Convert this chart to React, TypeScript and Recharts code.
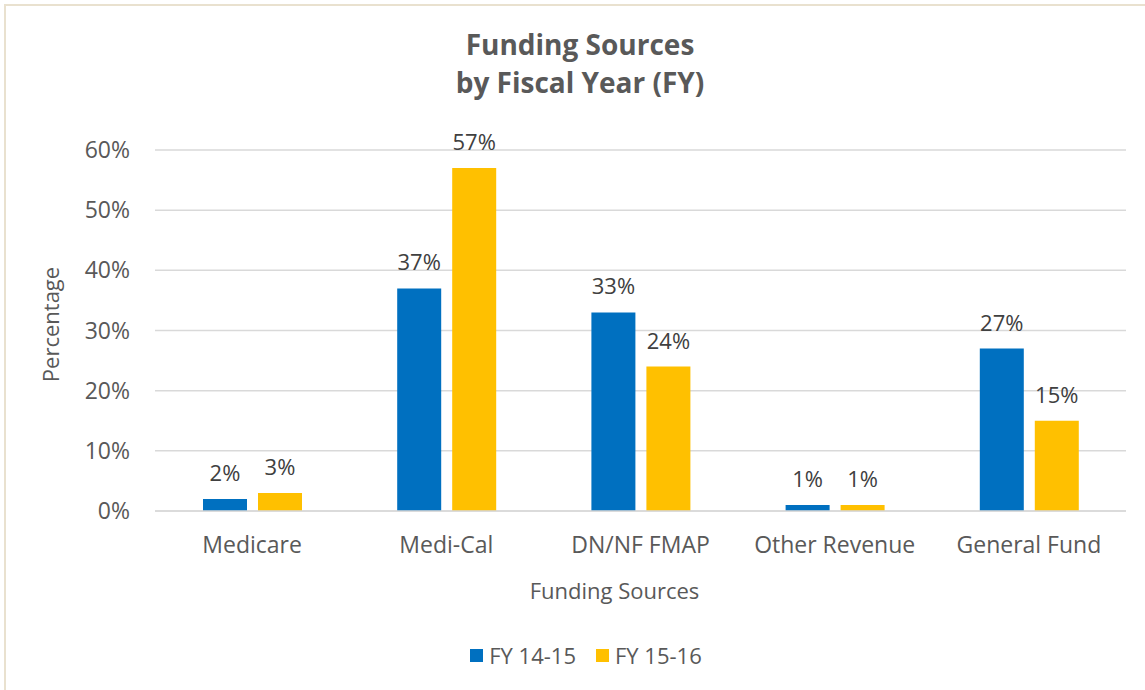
import React from "react";
import { BarChart, Bar, XAxis, YAxis, CartesianGrid, LabelList } from "recharts";

const categories = ["Medicare", "Medi-Cal", "DN/NF FMAP", "Other Revenue", "General Fund"];
const fy1415 = [2, 37, 33, 1, 27];
const fy1516 = [3, 57, 24, 1, 15];
const yTicks = [0, 10, 20, 30, 40, 50, 60];
const seriesNames = ["FY 14-15", "FY 15-16"];
const colors = ["#0070C0", "#FFC000"];

const data = categories.map((c, i) => ({ name: c, a: fy1415[i], b: fy1516[i] }));

const FONT = "'Open Sans', 'Noto Sans', sans-serif";

const YLabel = (props: any) => {
  const vb = props.viewBox || { x: 0, y: 0, width: 0, height: 0 };
  const x = vb.x + 50;
  const y = vb.y + vb.height / 2 - 6;
  return (
    <text
      x={x}
      y={y}
      transform={`rotate(-90 ${x} ${y})`}
      textAnchor="middle"
      dominantBaseline="central"
      fill="#595959"
      fontSize={22}
      fontFamily={FONT}
    >
      Percentage
    </text>
  );
};

export default function App() {
  return (
    <div style={{ position: "absolute", left: 0, top: 0, width: 1145, height: 690, background: "#fff", overflow: "hidden", fontFamily: FONT }}>
      <div style={{ position: "absolute", left: 4, top: 4, width: 1160, height: 700, borderLeft: "2px solid #E9E1CF", borderTop: "2px solid #E9E1CF", boxSizing: "border-box" }} />
      <div style={{ position: "absolute", left: 0, top: 25, width: 1160, textAlign: "center", color: "#595959", fontWeight: 700, fontSize: 28, lineHeight: "38px" }}>
        <div>Funding Sources</div>
        <div>by Fiscal Year (FY)</div>
      </div>
      <div style={{ position: "absolute", left: 0, top: 0 }}>
        <BarChart width={1145} height={690} data={data} margin={{ top: 150, right: 19, left: 0, bottom: 0 }} barSize={44} barGap={11}>
          <CartesianGrid vertical={false} stroke="#D9D9D9" strokeWidth={1.5} />
          <XAxis
            dataKey="name"
            height={179}
            tickLine={false}
            axisLine={{ stroke: "#D9D9D9", strokeWidth: 1.5 }}
            tickSize={0}
            tickMargin={26}
            tick={{ fill: "#595959", fontSize: 23, fontFamily: FONT }}
            interval={0}
            label={{ value: "Funding  Sources", position: "insideTop", offset: 72, dx: -26, fill: "#595959", fontSize: 22, fontFamily: FONT, style: { whiteSpace: "pre" } }}
          />
          <YAxis
            width={155}
            domain={[0, 60]}
            ticks={yTicks}
            tickFormatter={(v: number) => `${v}%`}
            axisLine={false}
            tickLine={false}
            tickSize={0}
            tickMargin={25}
            tick={{ fill: "#595959", fontSize: 23, fontFamily: FONT }}
            label={<YLabel />}
          />
          <Bar dataKey="a" name={seriesNames[0]} fill={colors[0]} isAnimationActive={false}>
            <LabelList dataKey="a" position="top" offset={18} formatter={(v: any) => `${v}%`} fill="#404040" fontSize={22} fontFamily={FONT} />
          </Bar>
          <Bar dataKey="b" name={seriesNames[1]} fill={colors[1]} isAnimationActive={false}>
            <LabelList dataKey="b" position="top" offset={18} formatter={(v: any) => `${v}%`} fill="#404040" fontSize={22} fontFamily={FONT} />
          </Bar>
        </BarChart>
      </div>
      <div style={{ position: "absolute", left: 0, top: 640, width: 1172, display: "flex", justifyContent: "center", alignItems: "center", color: "#595959", fontSize: 22 }}>
        {seriesNames.map((n, i) => (
          <div key={n} style={{ display: "flex", alignItems: "center", marginRight: i === 0 ? 20 : 0 }}>
            <span style={{ display: "inline-block", width: 13, height: 13, background: colors[i], marginRight: 6 }} />
            <span>{n}</span>
          </div>
        ))}
      </div>
    </div>
  );
}
